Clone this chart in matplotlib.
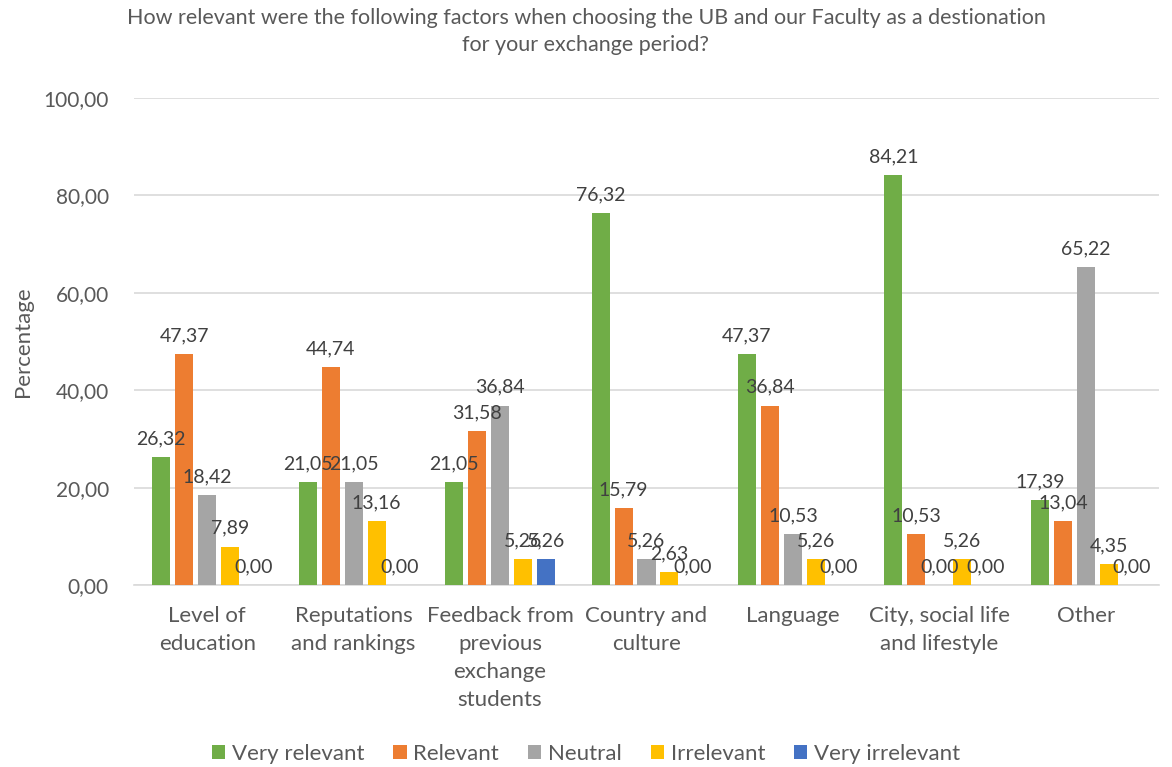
import numpy as np
import matplotlib.pyplot as plt
from matplotlib.ticker import FuncFormatter

plt.rcParams['font.family'] = ['Lato', 'DejaVu Sans']

# Data
categories = ['Level of\neducation', 'Reputations\nand rankings', 'Feedback from\nprevious\nexchange\nstudents',
              'Country and\nculture', 'Language', 'City, social life\nand lifestyle', 'Other']
series = ['Very relevant', 'Relevant', 'Neutral', 'Irrelevant', 'Very irrelevant']
very_relevant = [26.32, 21.05, 21.05, 76.32, 47.37, 84.21, 17.39]
relevant = [47.37, 44.74, 31.58, 15.79, 36.84, 10.53, 13.04]
neutral = [18.42, 21.05, 36.84, 5.26, 10.53, 0.00, 65.22]
irrelevant = [7.89, 13.16, 5.26, 2.63, 5.26, 5.26, 4.35]
very_irrelevant = [0.00, 0.00, 5.26, 0.00, 0.00, 0.00, 0.00]
values = [very_relevant, relevant, neutral, irrelevant, very_irrelevant]
colors = ['#70AD47', '#ED7D31', '#A5A5A5', '#FFC000', '#4472C4']

fig = plt.figure(figsize=(11.72, 7.67), dpi=100)
ax = fig.add_axes([134 / 1172, 1 - 585 / 767, (1159 - 134) / 1172, (585 - 98) / 767])

x = np.arange(len(categories))
width = 0.123
pitch = 0.157
for i, (name, vals, c) in enumerate(zip(series, values, colors)):
    pos = x + (i - 2) * pitch
    ax.bar(pos, vals, width=width, color=c, label=name, zorder=3)
    for px, v in zip(pos, vals):
        ax.annotate(f'{v:.2f}'.replace('.', ','), (px, v), xytext=(0, 7),
                    textcoords='offset points', ha='center', va='bottom',
                    fontsize=14, color='#404040', zorder=4)

ax.set_xlim(-0.5, len(categories) - 0.5)
ax.set_ylim(0, 100)
ax.set_yticks(np.arange(0, 101, 20))
ax.yaxis.set_major_formatter(FuncFormatter(lambda v, p: f'{v:.2f}'.replace('.', ',')))
ax.grid(axis='y', color='#D9D9D9', linewidth=1.2, zorder=0)
for s in ['top', 'right', 'left']:
    ax.spines[s].set_visible(False)
ax.spines['bottom'].set_color('#D9D9D9')
ax.spines['bottom'].set_linewidth(1.2)
ax.tick_params(axis='y', length=0, labelsize=15, colors='#595959', pad=18)
ax.tick_params(axis='x', length=0, labelsize=16, colors='#595959', pad=15)
ax.set_xticks(x)
ax.set_xticklabels(categories, linespacing=1.5)
ax.set_ylabel('Percentage', fontsize=16, color='#595959', labelpad=8)

fig.suptitle('How relevant were the following factors when choosing the UB and our Faculty as a destionation\n'
             'for your exchange period?', fontsize=15.5, color='#595959', y=0.99, linespacing=1.45)

fig.legend(loc='lower center', ncol=5, frameon=False, fontsize=16, handlelength=0.6, handleheight=0.6,
           handletextpad=0.3, columnspacing=1.3, bbox_to_anchor=(0.5, -0.022), labelcolor='#595959')

fig.savefig('out.png', dpi=100)
